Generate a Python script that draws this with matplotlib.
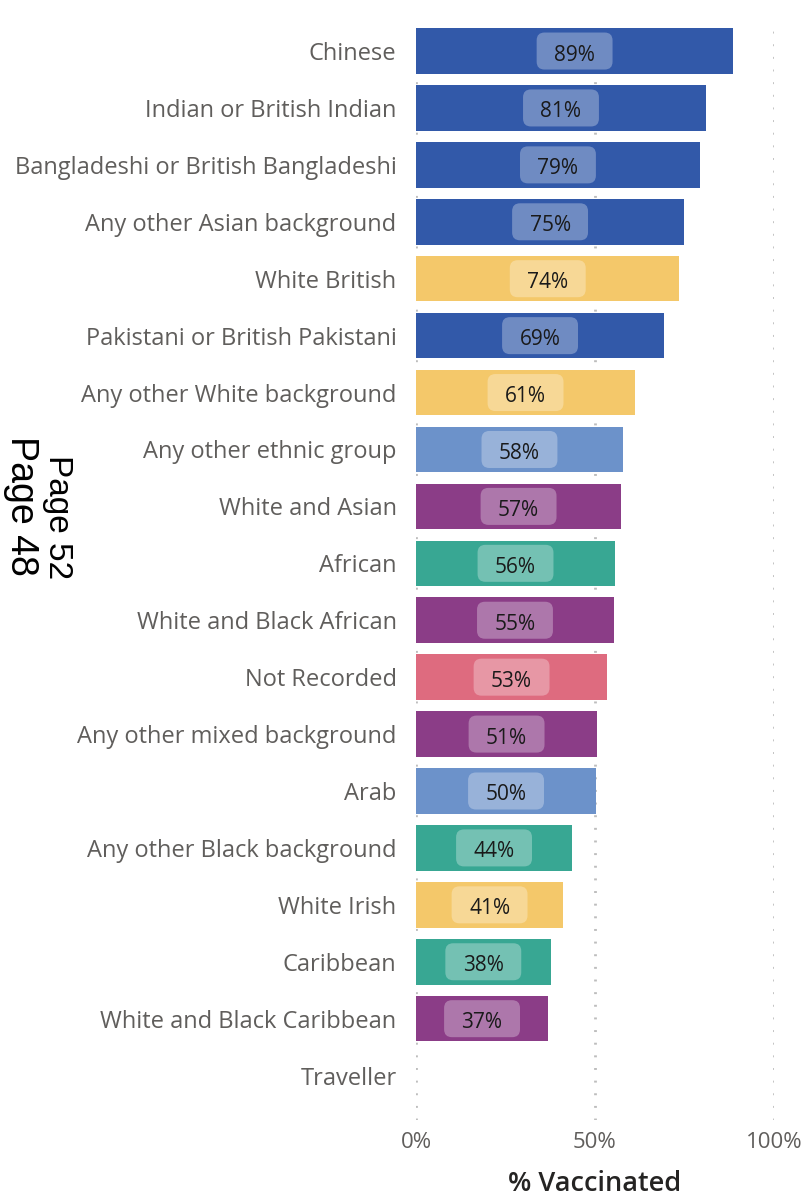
import matplotlib
matplotlib.use("Agg")
import matplotlib.pyplot as plt
from matplotlib.patches import FancyBboxPatch

# datos (porcentaje vacunado por grupo etnico)
grupos = ["Chinese", "Indian or British Indian", "Bangladeshi or British Bangladeshi",
          "Any other Asian background", "White British", "Pakistani or British Pakistani",
          "Any other White background", "Any other ethnic group", "White and Asian",
          "African", "White and Black African", "Not Recorded", "Any other mixed background",
          "Arab", "Any other Black background", "White Irish", "Caribbean",
          "White and Black Caribbean", "Traveller"]
valores = [88.6, 81.0, 79.3, 74.9, 73.6, 69.3, 61.2, 57.8, 57.3, 55.6, 55.3, 53.4,
           50.6, 50.3, 43.6, 41.1, 37.6, 36.9, 0.0]
familias = ["Asian", "Asian", "Asian", "Asian", "White", "Asian", "White", "Other",
            "Mixed", "Black", "Mixed", "NotRecorded", "Mixed", "Other", "Black",
            "White", "Black", "Mixed", "White"]
colores = {"Asian": "#3259A9", "White": "#F4C86A", "Other": "#6C92CA",
           "Mixed": "#8B3D87", "Black": "#38A793", "NotRecorded": "#DE6B7F"}
ticks_x = [0, 50, 100]
ticks_txt = ["0%", "50%", "100%"]

plt.rcParams['font.family'] = ['Open Sans', 'DejaVu Sans']

fig = plt.figure(figsize=(8.07, 11.99), dpi=100)
ax = fig.add_axes([416/807, 1 - 1120/1199, (774 - 416)/807, (1120 - 22)/1199])

pos = list(range(len(grupos)))
ax.barh(pos, valores, height=0.8, color=[colores[f] for f in familias], zorder=2)

# cajitas redondeadas de las etiquetas (en unidades de datos)
ancho_caja = 21.2
alto_caja = 0.65
aspecto = (100 / 358) / (19.29 / 1098)  # unidades x por px / filas por px
for p, v in zip(pos, valores):
    if v <= 0:
        continue
    caja = FancyBboxPatch((v / 2 - ancho_caja / 2, p - alto_caja / 2), ancho_caja, alto_caja,
                          boxstyle="round,pad=0,rounding_size=2.2",
                          mutation_aspect=1 / aspecto, fc="white", ec="none",
                          alpha=0.3, zorder=3)
    ax.add_patch(caja)
    ax.text(v / 2, p + 0.07, f"{round(v)}%", ha="center", va="center", fontsize=15,
            color="#1a1a1a", zorder=4)

ax.set_xlim(0, 100)
ax.set_ylim(18.78, -0.51)
ax.set_yticks(pos)
ax.set_yticklabels(grupos, fontsize=17, color="#605E5C")
ax.set_xticks(ticks_x)
ax.set_xticklabels(ticks_txt, fontsize=16, color="#605E5C")
ax.tick_params(axis="y", length=0, pad=14)
ax.tick_params(axis="x", length=0, pad=9)

for t in ticks_x:
    ax.axvline(t, color="#BDBDBD", lw=2.0, linestyle=(0, (0.7, 3.85)), zorder=1)

for s in ax.spines.values():
    s.set_visible(False)

ax.set_xlabel("% Vaccinated", fontsize=19.5, fontweight="semibold", color="#252423", labelpad=12)

# textos laterales de pagina
fig.text(57/807, 1 - 517/1199, "Page 52", rotation=-90, ha="center", va="center",
         fontsize=24, family="Liberation Sans", color="black")
fig.text(21/807, 1 - 506/1199, "Page 48", rotation=-90, ha="center", va="center",
         fontsize=27, family="Liberation Sans", color="black")

fig.savefig("out.png", dpi=100)
